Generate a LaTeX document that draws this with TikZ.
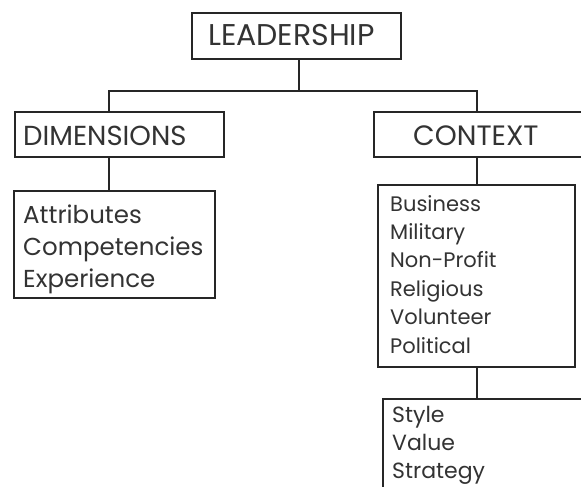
\documentclass[tikz,border=0pt]{standalone}
\usepackage{fontspec}
\setmainfont{Poppins}
\begin{document}
\begin{tikzpicture}[x=1pt,y=-1pt,
  box/.style={draw=black!85,line width=2.2pt,rectangle,inner sep=0pt},
  con/.style={draw=black!85,line width=2.2pt},
  lbl/.style={inner sep=0pt,anchor=base west,text=black!80,align=left}]
\useasboundingbox (0,0) rectangle (581,487);
\clip (0,0) rectangle (581,487);
\fill[white] (0,0) rectangle (581,487);
% boxes
\node[box,minimum width=209pt,minimum height=46pt] (lead) at (296.5,36) {};
\node[box,minimum width=209pt,minimum height=45pt] (dim) at (119.5,134.5) {};
\node[box,minimum width=226pt,minimum height=45pt] (ctx) at (487,134.5) {};
\node[box,minimum width=201pt,minimum height=107pt] (attr) at (114.5,244.5) {};
\node[box,minimum width=197pt,minimum height=182pt] (clist) at (476.5,276) {};
\node[box,minimum width=217pt,minimum height=110pt] (slist) at (491.5,454) {};
% texts (base anchor of a multi-line node = last line's baseline)
\node[lbl,font={\fontsize{30}{32}\selectfont}] (tlead) at (208,46) {LEADERSHIP};
\node[lbl,font={\fontsize{27.5}{32}\selectfont}] (tdim) at (23,145) {DIMENSIONS};
\node[lbl,font={\fontsize{28}{32}\selectfont}] (tctx) at (413,145) {CONTEXT};
\node[lbl,font={\fontsize{24.5}{32}\selectfont}] (tattr) at (23,287) {Attributes\\Competencies\\Experience};
\node[lbl,font={\fontsize{21}{28.4}\selectfont}] (tclist) at (390,353) {Business\\Military\\Non-Profit\\Religious\\Volunteer\\Political};
\node[lbl,font={\fontsize{22}{28}\selectfont}] (tslist) at (392,478) {Style\\Value\\Strategy};
% connectors
\coordinate (jM) at (299,91);
\coordinate (jL) at (109,91);
\coordinate (jR) at (477,91);
\draw[con] (lead.south -| jM) -- (jM);
\draw[con] (dim.north -| jL) -- (jL) -- (jR) -- (ctx.north -| jR);
\draw[con] (dim.south -| jL) -- (attr.north -| jL);
\draw[con] (ctx.south -| jR) -- (clist.north -| jR);
\draw[con] (clist.south -| jR) -- (slist.north -| jR);
\end{tikzpicture}
\end{document}
